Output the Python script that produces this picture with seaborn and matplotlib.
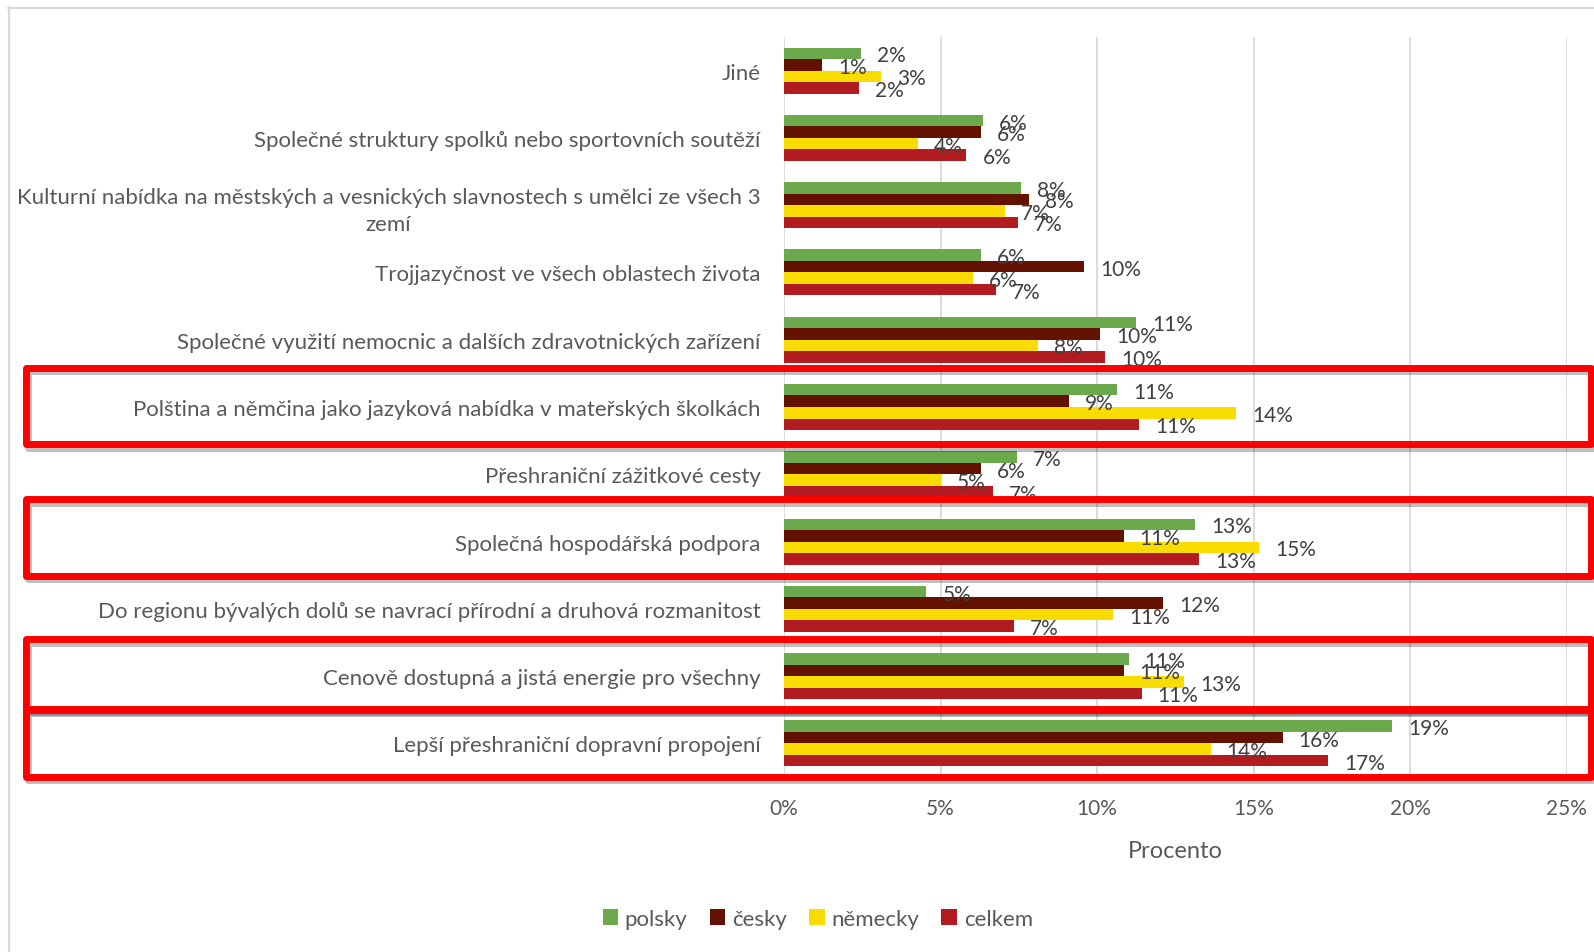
import matplotlib
matplotlib.use("Agg")
import matplotlib.pyplot as plt
import matplotlib.patheffects as pe
from matplotlib.patches import Rectangle
from matplotlib.lines import Line2D
from matplotlib.transforms import blended_transform_factory
from matplotlib.ticker import FuncFormatter
import pandas as pd
import seaborn as sns

categories = [
    "Jiné",
    "Společné struktury spolků nebo sportovních soutěží",
    "Kulturní nabídka na městských a vesnických slavnostech s umělci ze všech 3\nzemí",
    "Trojjazyčnost ve všech oblastech života",
    "Společné využití nemocnic a dalších zdravotnických zařízení",
    "Polština a němčina jako jazyková nabídka v mateřských školkách",
    "Přeshraniční zážitkové cesty",
    "Společná hospodářská podpora",
    "Do regionu bývalých dolů se navrací přírodní a druhová rozmanitost",
    "Cenově dostupná a jistá energie pro všechny",
    "Lepší přeshraniční dopravní propojení",
]
polsky = [2.46, 6.37, 7.56, 6.28, 11.25, 10.64, 7.45, 13.13, 4.55, 11.01, 19.44]
cesky = [1.23, 6.30, 7.82, 9.59, 10.11, 9.09, 6.30, 10.85, 12.12, 10.85, 15.93]
nemecky = [3.10, 4.29, 7.07, 6.03, 8.11, 14.45, 5.00, 15.19, 10.52, 12.78, 13.63]
celkem = [2.40, 5.83, 7.48, 6.78, 10.26, 11.35, 6.67, 13.26, 7.35, 11.43, 17.38]
series = ["polsky", "česky", "německy", "celkem"]
palette = ["#6CA84C", "#641200", "#F8DC00", "#B21C20"]

# highlighted categories: (index, extent above, extent below) in category units
boxes = [(5, 0.587, 0.557), (7, 0.627, 0.51), (9, 0.547, 0.486), (10, 0.50, 0.496)]

df = pd.DataFrame({
    "kategorie": categories * 4,
    "hodnota": polsky + cesky + nemecky + celkem,
    "jazyk": [s for s in series for _ in categories],
})

sns.set_theme(style="white")
plt.rcParams["font.family"] = ["Lato", "DejaVu Sans"]

fig = plt.figure(figsize=(15.94, 9.53), dpi=100)
ax = fig.add_axes([784 / 1594, 1 - 778 / 953, (1566.5 - 784) / 1594, (778 - 38) / 953])

sns.barplot(data=df, y="kategorie", x="hodnota", hue="jazyk", hue_order=series,
            palette=palette, orient="h", width=0.685, ax=ax, legend=True,
            saturation=1, edgecolor="none")

for cont in ax.containers:
    txts = ax.bar_label(cont, labels=[f"{v:.0f}%" for v in cont.datavalues], padding=11.5,
                        fontsize=15, color="#404040")
    for t in txts:
        t.set_va("center_baseline")

ax.set_xlim(0, 25)
ax.set_ylim(10.5, -0.5)
ax.set_xticks([0, 5, 10, 15, 20, 25])
ax.xaxis.set_major_formatter(FuncFormatter(lambda v, _: f"{v:.0f}%"))
ax.grid(axis="x", color="#D9D9D9", linewidth=1.3)
ax.set_axisbelow(True)
for s in ax.spines.values():
    s.set_visible(False)
ax.tick_params(axis="y", length=0, pad=17, labelsize=16, labelcolor="#595959")
ax.tick_params(axis="x", length=0, pad=15, labelsize=15, labelcolor="#595959")
for t in ax.get_yticklabels():
    t.set_multialignment("center")
    t.set_linespacing(1.45)
ax.set_ylabel("")
ax.set_xlabel("Procento", fontsize=17, color="#595959", labelpad=16)

handles, labels = ax.get_legend_handles_labels()
ax.get_legend().remove()
fig.legend(handles, labels, loc="center", bbox_to_anchor=(0.513, 0.0346), ncol=4,
           frameon=False, fontsize=16, labelcolor="#595959", handlelength=0.7,
           handleheight=0.7, handletextpad=0.3, columnspacing=1.0)

# chart border (top and left only visible)
fig.add_artist(Line2D([8 / 1594, 1], [1 - 8.5 / 953] * 2, color="#D9D9D9", lw=1.6))
fig.add_artist(Line2D([8.5 / 1594] * 2, [0, 1 - 8 / 953], color="#D9D9D9", lw=1.6))

# red highlight boxes
trans = blended_transform_factory(fig.transFigure, ax.transData)
for idx, up, down in boxes:
    rect = Rectangle((26 / 1594, idx + down), (1590.5 - 26) / 1594, -(up + down),
                     transform=trans, fill=False, edgecolor="#FF0000", lw=5,
                     joinstyle="round", clip_on=False)
    rect.set_path_effects([pe.SimpleLineShadow(offset=(1.5, -2.5), shadow_color="black",
                                               alpha=0.25), pe.Normal()])
    fig.add_artist(rect)

fig.savefig("out.png", dpi=100)
